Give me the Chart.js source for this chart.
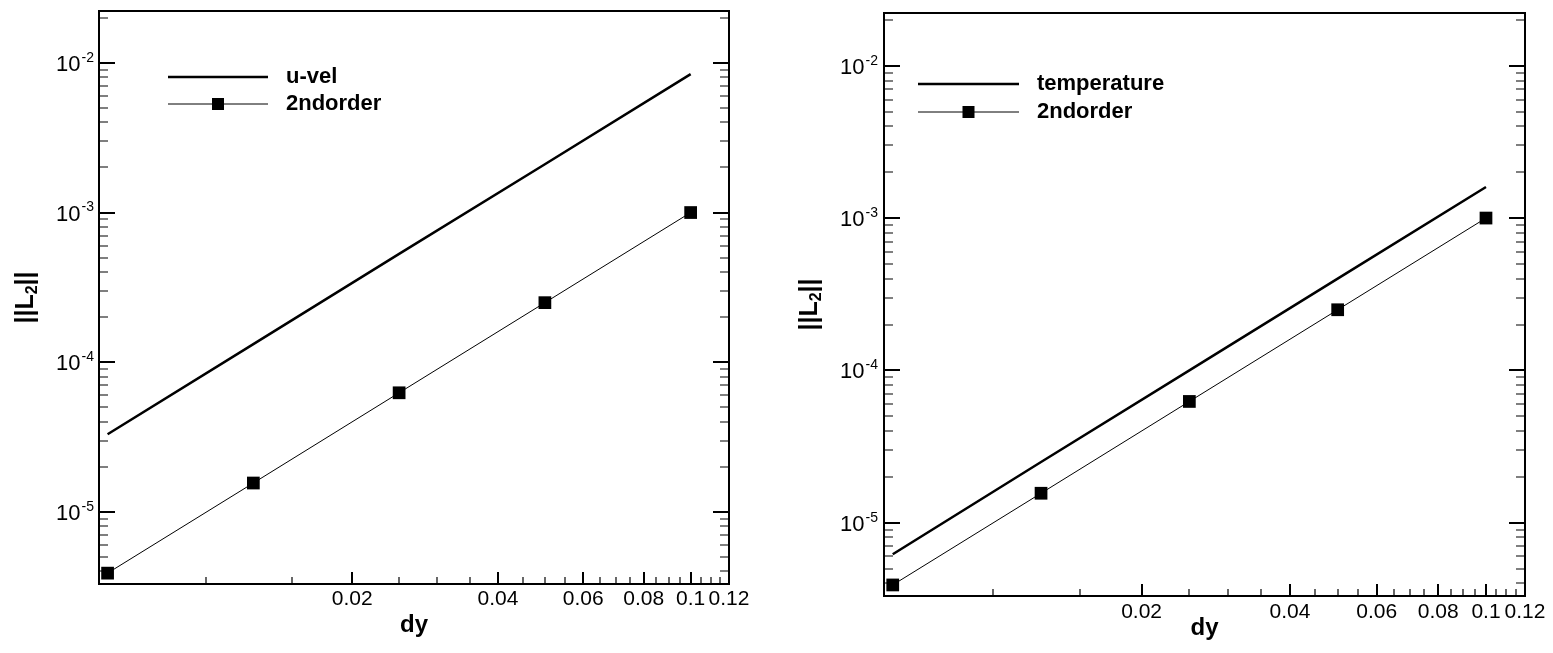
<!DOCTYPE html>
<html>
<head>
<meta charset="utf-8">
<script src="https://cdn.jsdelivr.net/npm/chart.js@4.4.1/dist/chart.umd.min.js"></script>
<style>
  html, body { margin: 0; padding: 0; background: #fff; }
  #wrap { position: relative; width: 1553px; height: 653px; }
  .panel { position: absolute; top: 0; height: 653px; }
  #left { left: 0; width: 776px; }
  #right { left: 776px; width: 777px; }
</style>
</head>
<body>
<div id="wrap">
  <div class="panel" id="left"><canvas id="c1"></canvas></div>
  <div class="panel" id="right"><canvas id="c2"></canvas></div>
</div>
<script>
// grid spacing and L2 error norms
const dy = [0.1, 0.05, 0.025, 0.0125, 0.00625]
const uVel = [8.4e-3, 2.1e-3, 5.3e-4, 1.32e-4, 3.3e-5]
const temperature = [1.6e-3, 4.0e-4, 1.0e-4, 2.5e-5, 6.2e-6]
const secondOrder = [1.0e-3, 2.5e-4, 6.25e-5, 1.56e-5, 3.9e-6]

// tick labels
const xMajorTicks = [0.02, 0.04, 0.06, 0.08, 0.1, 0.12]
const xTickLabels = ['0.02', '0.04', '0.06', '0.08', '0.1', '0.12']
const yMajorTicks = [1e-2, 1e-3, 1e-4, 1e-5]
const yTickExponents = ['-2', '-3', '-4', '-5']

const FONT = 'Arial, "Liberation Sans", Helvetica, sans-serif'
Chart.defaults.font.family = FONT
Chart.defaults.color = '#000'

const X_MIN = 0.006, X_MAX = 0.12
const Y_MIN = 3.3e-6, Y_MAX = 0.0222

// minor ticks: every 0.005 on x, m*10^k on y
const xTicks = []
for (let i = 2; i <= 24; i++) {
    const v = Math.round(i * 5) / 1000
    const k = xMajorTicks.indexOf(v)
    xTicks.push({ value: v, major: k >= 0, label: k >= 0 ? xTickLabels[k] : '' })
}
const yTicks = []
for (let e = -6; e <= -2; e++) {
    for (let m = 1; m <= 9; m++) {
        const v = m * Math.pow(10, e)
        if (v < Y_MIN || v > Y_MAX) continue
        const k = m === 1 ? yMajorTicks.findIndex(t => Math.abs(t - v) < v * 1e-6) : -1
        yTicks.push({ value: v, major: k >= 0, exp: k >= 0 ? yTickExponents[k] : '' })
    }
}

const panelDecor = {
    id: 'panel',
    afterDraw(chart, args, o) {
        const ctx = chart.ctx, a = chart.chartArea
        const xs = chart.scales.x, ys = chart.scales.y
        ctx.save()
        ctx.strokeStyle = '#000'
        ctx.fillStyle = '#000'
        // top and right side of the frame
        ctx.lineWidth = 2
        ctx.beginPath()
        ctx.moveTo(a.left, a.top)
        ctx.lineTo(a.right, a.top)
        ctx.lineTo(a.right, a.bottom)
        ctx.stroke()
        // inward tick marks
        ys.ticks.forEach(t => {
            const p = Math.round(ys.getPixelForValue(t.value))
            const len = t.major ? 16 : 9
            ctx.lineWidth = t.major ? 2 : 1.2
            ctx.beginPath()
            ctx.moveTo(a.left, p); ctx.lineTo(a.left + len, p)
            ctx.moveTo(a.right - len, p); ctx.lineTo(a.right, p)
            ctx.stroke()
        })
        xs.ticks.forEach(t => {
            const p = Math.round(xs.getPixelForValue(t.value))
            const len = t.major ? 12 : 7
            ctx.lineWidth = t.major ? 2 : 1.2
            ctx.beginPath()
            ctx.moveTo(p, a.bottom); ctx.lineTo(p, a.bottom - len)
            ctx.stroke()
        })
        // y tick labels 10^n
        ctx.textBaseline = 'middle'
        ctx.textAlign = 'left'
        ys.ticks.filter(t => t.major).forEach(t => {
            const p = ys.getPixelForValue(t.value)
            const exp = yTicks.find(y => y.value === t.value).exp
            ctx.font = '14px ' + FONT
            const ws = ctx.measureText(exp).width
            ctx.font = '22px ' + FONT
            const wb = ctx.measureText('10').width
            const right = a.left - o.labelGap
            ctx.fillText('10', right - ws - wb - 1, p + 2)
            ctx.font = '14px ' + FONT
            ctx.fillText(exp, right - ws, p - 5)
        })
        // y axis title ||L2||
        ctx.save()
        ctx.translate(o.titleX, (a.top + a.bottom) / 2)
        ctx.rotate(-Math.PI / 2)
        const parts = [['||L', 'bold 25px ', 0], ['2', 'bold 16px ', 7], ['||', 'bold 25px ', 0]]
        let total = 0
        parts.forEach(pt => { ctx.font = pt[1] + FONT; total += ctx.measureText(pt[0]).width })
        let cx = -total / 2
        parts.forEach(pt => {
            ctx.font = pt[1] + FONT
            ctx.fillText(pt[0], cx, pt[2])
            cx += ctx.measureText(pt[0]).width
        })
        ctx.restore()
        // legend inside the plot
        chart.data.datasets.forEach((ds, i) => {
            const y = a.top + o.legendRows[i]
            const x0 = a.left + o.legendLine[0], x1 = a.left + o.legendLine[1]
            ctx.lineWidth = ds.borderWidth
            ctx.beginPath()
            ctx.moveTo(x0, y); ctx.lineTo(x1, y)
            ctx.stroke()
            if (ds.pointRadius > 0) {
                const s = 12
                ctx.fillRect((x0 + x1) / 2 - s / 2, y - s / 2, s, s)
            }
            ctx.font = 'bold 22px ' + FONT
            ctx.fillText(ds.label, a.left + o.legendText, y)
        })
        ctx.restore()
    }
}

function makeChart(id, name, values, lay) {
    return new Chart(document.getElementById(id), {
        type: 'line',
        plugins: [panelDecor],
        data: {
            datasets: [{
                label: name,
                data: dy.map((x, i) => ({ x: x, y: values[i] })),
                borderColor: '#000',
                borderWidth: 2.5,
                pointRadius: 0,
                fill: false,
                tension: 0
            }, {
                label: '2ndorder',
                data: dy.map((x, i) => ({ x: x, y: secondOrder[i] })),
                borderColor: '#000',
                borderWidth: 1,
                pointStyle: 'rect',
                pointRadius: 9,
                pointBackgroundColor: '#000',
                pointBorderWidth: 0,
                fill: false,
                tension: 0
            }]
        },
        options: {
            responsive: true,
            maintainAspectRatio: false,
            animation: false,
            events: [],
            layout: { padding: { left: 0, top: lay.top, right: lay.right, bottom: 0 } },
            plugins: {
                legend: { display: false },
                tooltip: { enabled: false },
                panel: lay.decor
            },
            scales: {
                x: {
                    type: 'logarithmic',
                    min: X_MIN,
                    max: X_MAX,
                    grid: { display: false, drawTicks: false },
                    border: { display: true, color: '#000', width: 2 },
                    afterBuildTicks: s => { s.ticks = xTicks.map(t => ({ value: t.value, major: t.major })) },
                    afterFit: s => { s.height = lay.xHeight },
                    ticks: {
                        autoSkip: false,
                        maxRotation: 0,
                        padding: lay.xPad,
                        font: { size: 21 },
                        callback: (v, i) => xTicks[i].label
                    },
                    title: {
                        display: true,
                        text: 'dy',
                        font: { size: 24, weight: 'bold' },
                        padding: { top: 0, bottom: lay.titlePad }
                    }
                },
                y: {
                    type: 'logarithmic',
                    min: Y_MIN,
                    max: Y_MAX,
                    grid: { display: false, drawTicks: false },
                    border: { display: true, color: '#000', width: 2 },
                    afterBuildTicks: s => { s.ticks = yTicks.map(t => ({ value: t.value, major: t.major })) },
                    afterFit: s => { s.width = lay.yWidth },
                    ticks: { display: false }
                }
            }
        }
    })
}

makeChart('c1', 'u-vel', uVel, {
    top: 11, right: 47, xHeight: 69, yWidth: 99, xPad: 3, titlePad: 13,
    decor: { labelGap: 5, titleX: 26, legendRows: [66, 93], legendLine: [69, 169], legendText: 187 }
})
makeChart('c2', 'temperature', temperature, {
    top: 13, right: 28, xHeight: 57, yWidth: 108, xPad: 4, titlePad: 10,
    decor: { labelGap: 6, titleX: 34, legendRows: [71, 99], legendLine: [34, 135], legendText: 153 }
})
</script>
</body>
</html>
